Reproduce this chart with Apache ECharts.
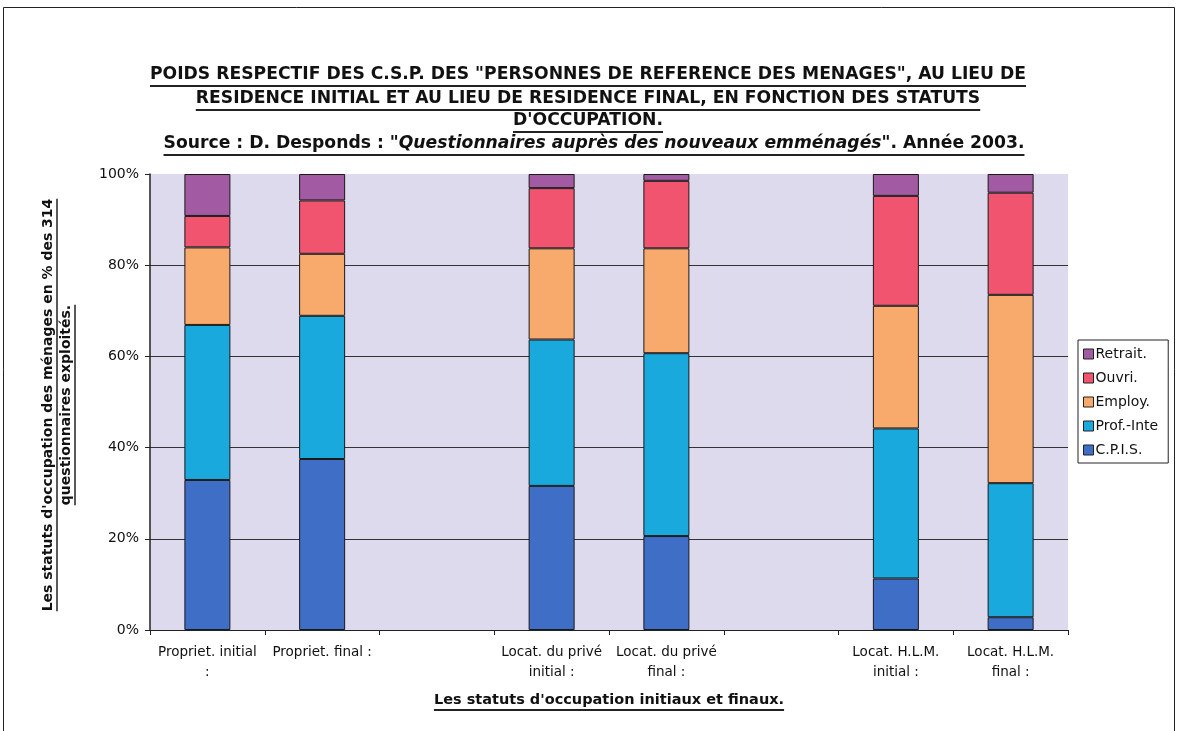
<!DOCTYPE html>
<html>
<head>
<meta charset="utf-8">
<script src="https://cdn.jsdelivr.net/npm/echarts@6/dist/echarts.min.js"></script>
<style>html,body{margin:0;padding:0;background:#fff;}#chart{width:1180px;height:731px;}</style>
</head>
<body>
<div id="chart"></div>
<script>
// ---- Data ----
const categories = ['Propriet. initial\n:', 'Propriet. final :', '', 'Locat. du privé\ninitial :', 'Locat. du privé\nfinal :', '', 'Locat. H.L.M.\ninitial :', 'Locat. H.L.M.\nfinal :'];
const seriesNames = ['C.P.I.S.', 'Prof.-Inte', 'Employ.', 'Ouvri.', 'Retrait.'];
const cpis     = [32.9, 37.5, null, 31.6, 20.6, null, 11.3, 2.8];
const profInte = [34.0, 31.4, null, 32.1, 40.1, null, 32.9, 29.4];
const employ   = [17.0, 13.6, null, 20.0, 23.0, null, 26.9, 41.3];
const ouvri    = [6.9, 11.7, null, 13.2, 14.8, null, 24.1, 22.4];
const retrait  = [9.2, 5.8, null, 3.1, 1.5, null, 4.8, 4.1];
const titleLines = [
  'POIDS RESPECTIF DES C.S.P. DES "PERSONNES DE REFERENCE DES MENAGES", AU LIEU DE',
  'RESIDENCE INITIAL ET AU LIEU DE RESIDENCE FINAL, EN FONCTION DES STATUTS',
  "D'OCCUPATION."
];
const sourceParts = ['Source : D. Desponds : "', 'Questionnaires auprès des nouveaux emménagés', '". Année 2003.'];
const yNameLines = ["Les statuts d'occupation des ménages en % des 314", 'questionnaires exploités.'];
const xName = "Les statuts d'occupation initiaux et finaux.";

// ---- Styles ----
const colors = ['#3e6ec5', '#1aa9dc', '#f8aa6c', '#f1546f', '#a25aa3'];
const seriesData = [cpis, profInte, employ, ouvri, retrait];

const titleFont = 'bold 17.2px "DejaVu Sans"';
const titleFontIt = 'italic bold 17.2px "DejaVu Sans"';
const nameFont = 'bold 14px "DejaVu Sans"';
const xNameFont = 'bold 14.5px "DejaVu Sans"';

const mctx = document.createElement('canvas').getContext('2d');
function tw(text, font) { mctx.font = font; return mctx.measureText(text).width; }

const graphics = [];
// frame
graphics.push({type: 'rect', shape: {x: 3.5, y: 7.5, width: 1171, height: 760}, style: {fill: null, stroke: '#222', lineWidth: 1}, silent: true});

const cx = 588;
const titleYs = [75, 99, 121];
titleLines.forEach((t, i) => {
  graphics.push({type: 'text', x: cx, y: titleYs[i], style: {text: t, font: titleFont, fill: '#111', align: 'center', verticalAlign: 'middle'}});
  const w = tw(t, titleFont);
  graphics.push({type: 'line', shape: {x1: cx - w / 2, y1: titleYs[i] + 11, x2: cx + w / 2, y2: titleYs[i] + 11}, style: {stroke: '#222', lineWidth: 2}});
});
// source line
{
  const y = 144, sx = 594;
  const w = tw(sourceParts[0], titleFont) + tw(sourceParts[1], titleFontIt) + tw(sourceParts[2], titleFont);
  graphics.push({type: 'text', x: sx, y: y, style: {
    text: '{a|' + sourceParts[0] + '}{b|' + sourceParts[1] + '}{a|' + sourceParts[2] + '}',
    align: 'center', verticalAlign: 'middle', fill: '#111',
    rich: {a: {font: titleFont, fill: '#111'}, b: {font: titleFontIt, fill: '#111'}}
  }});
  graphics.push({type: 'line', shape: {x1: sx - w / 2, y1: y + 11, x2: sx + w / 2, y2: y + 11}, style: {stroke: '#222', lineWidth: 2}});
}
// y axis name (rotated)
const yc = 405;
const yNameX = [48, 66];
yNameLines.forEach((t, i) => {
  graphics.push({type: 'text', x: yNameX[i], y: yc, rotation: Math.PI / 2, style: {text: t, font: nameFont, fill: '#111', align: 'center', verticalAlign: 'middle'}});
  const w = tw(t, nameFont);
  graphics.push({type: 'line', shape: {x1: yNameX[i] + 9, y1: yc - w / 2, x2: yNameX[i] + 9, y2: yc + w / 2}, style: {stroke: '#222', lineWidth: 1.5}});
});
// x axis name
{
  const x = 609, y = 700;
  graphics.push({type: 'text', x: x, y: y, style: {text: xName, font: xNameFont, fill: '#111', align: 'center', verticalAlign: 'middle'}});
  const w = tw(xName, xNameFont);
  graphics.push({type: 'line', shape: {x1: x - w / 2, y1: y + 10, x2: x + w / 2, y2: y + 10}, style: {stroke: '#222', lineWidth: 2}});
}

const chart = echarts.init(document.getElementById('chart'), null, {renderer: 'canvas'});
chart.setOption({
  animation: false,
  backgroundColor: '#ffffff',
  graphic: graphics,
  legend: {
    orient: 'vertical',
    left: 1078, top: 340,
    data: seriesNames.slice().reverse(),
    icon: 'rect',
    itemWidth: 10, itemHeight: 10, itemGap: 10,
    padding: [7, 10, 6, 5],
    borderColor: '#222', borderWidth: 1,
    textStyle: {fontFamily: 'DejaVu Sans', fontSize: 14, color: '#111', padding: [0, 0, 0, -3], lineHeight: 14},
    itemStyle: {borderColor: '#222', borderWidth: 1}
  },
  grid: {left: 150, right: 112, top: 174, bottom: 101, show: true, backgroundColor: '#dedaee', borderWidth: 0},
  xAxis: {
    type: 'category',
    data: categories,
    axisLine: {lineStyle: {color: '#222', width: 1}},
    axisTick: {show: true, alignWithLabel: false, length: 5, lineStyle: {color: '#222'}},
    axisLabel: {interval: 0, fontFamily: 'DejaVu Sans', fontSize: 13.5, color: '#111', lineHeight: 20, margin: 12}
  },
  yAxis: {
    type: 'value', min: 0, max: 100, interval: 20,
    axisLine: {show: true, lineStyle: {color: '#222', width: 1.5}},
    axisTick: {show: true, length: 5, lineStyle: {color: '#222'}},
    axisLabel: {formatter: '{value}%', fontFamily: 'DejaVu Sans', fontSize: 14, color: '#111', margin: 11},
    splitLine: {show: true, lineStyle: {color: ['#333', '#333', '#333', '#333', '#333', 'rgba(0,0,0,0)'], width: 1}}
  },
  series: seriesNames.map((n, i) => ({
    name: n, type: 'bar', stack: 'total', barWidth: 46,
    data: seriesData[i],
    itemStyle: {color: colors[i], borderColor: '#1a1a1a', borderWidth: 1}
  }))
});
</script>
</body>
</html>
